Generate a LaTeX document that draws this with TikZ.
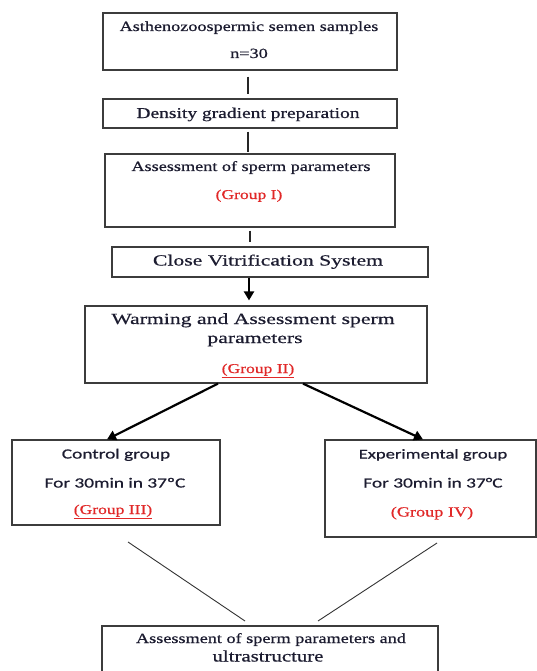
\documentclass[tikz,border=0pt]{standalone}
\usepackage{fontspec}
\setmainfont{Liberation Serif}
\newfontfamily\srf[FakeStretch=1.3,FakeBold=0.6]{Liberation Serif}
\newfontfamily\srfw[FakeStretch=1.4,FakeBold=0.6]{Liberation Serif}
\newfontfamily\sns[FakeStretch=1.38,FakeBold=0.6]{Carlito}
\usetikzlibrary{arrows.meta}
\definecolor{ink}{RGB}{28,28,48}
\definecolor{redt}{RGB}{225,40,40}
\definecolor{boxc}{RGB}{60,60,60}
\begin{document}
\begin{tikzpicture}[x=1pt,y=-1pt,
  box/.style={draw=boxc,line width=1.2pt,inner sep=0pt,fill=white},
  txt/.style={inner sep=0pt,text=ink,anchor=base},
  rtxt/.style={inner sep=0pt,text=redt,anchor=base},
  conn/.style={draw=black!85,line width=1.4pt},
  thin/.style={draw=black!80,line width=0.9pt},
  arr/.style={draw=black,line width=2.2pt,-{Triangle[length=9pt,width=10pt]}}]
\useasboundingbox (0,0) rectangle (537,671);
% boxes
\node[box,minimum width=294pt,minimum height=57pt] (b1) at (250,41.5) {};
\node[box,minimum width=294pt,minimum height=29pt] (b2) at (250,113.5) {};
\node[box,minimum width=290pt,minimum height=73pt] (b3) at (250,190.5) {};
\node[box,minimum width=316pt,minimum height=30pt] (b4) at (270,262) {};
\node[box,minimum width=342pt,minimum height=77pt] (b5) at (256,344.5) {};
\node[box,minimum width=208pt,minimum height=85pt] (b6) at (116,482.5) {};
\node[box,minimum width=211pt,minimum height=97pt] (b7) at (430.5,488.5) {};
\node[box,minimum width=336pt,minimum height=64pt] (b8) at (270,658) {};
% texts
\node[txt] (t1a) at (249,31) {\fontsize{14}{16}\srf Asthenozoospermic semen samples};
\node[txt] (t1b) at (249,58) {\fontsize{14}{16}\srf n=30};
\node[txt] (t2) at (248,118) {\fontsize{15}{17}\srf Density gradient preparation};
\node[txt] (t3a) at (251,171) {\fontsize{14}{16}\srf Assessment of sperm parameters};
\node[rtxt] (t3b) at (249,199) {\fontsize{13.5}{15}\srf (Group I)};
\node[txt] (t4) at (268,265.5) {\fontsize{15.5}{17}\srfw Close Vitrification System};
\node[txt] (t5a) at (253,324) {\fontsize{15.5}{17}\srfw Warming and Assessment sperm};
\node[txt] (t5b) at (255,343) {\fontsize{15.5}{17}\srfw parameters};
\node[rtxt] (t5c) at (258,373) {\fontsize{13.5}{15}\srf \underline{(Group II)}};
\node[txt] (t6a) at (116,458.5) {\fontsize{14}{16}\sns Control group};
\node[txt] (t6b) at (115,487.5) {\fontsize{14}{16}\sns For 30min in 37ºC};
\node[rtxt] (t6c) at (113,514) {\fontsize{13.5}{15}\srf \underline{(Group III)}};
\node[txt] (t7a) at (433,458.5) {\fontsize{13.5}{16}\sns Experimental group};
\node[txt] (t7b) at (433,487.5) {\fontsize{14}{16}\sns For 30min in 37°C};
\node[rtxt] (t7c) at (432,516.5) {\fontsize{14}{16}\srf (Group IV)};
\node[txt] (t8a) at (271,643) {\fontsize{14}{16}\srf Assessment of sperm parameters and};
\node[txt] (t8b) at (268,661.5) {\fontsize{16}{18}\srf ultrastructure};
% connectors
\draw[conn,shorten <=6pt,shorten >=4pt] ([xshift=-2pt]b1.south) -- ([xshift=-2pt]b2.north);
\draw[conn,shorten <=3pt,shorten >=1pt] ([xshift=-2pt]b2.south) -- ([xshift=-2pt]b3.north);
\draw[conn,shorten <=3pt,shorten >=4pt] (b3.south) -- ([xshift=-20pt]b4.north);
\draw[arr,shorten >=5pt] ([xshift=-21pt]b4.south) -- ([xshift=-7pt]b5.north);
\draw[arr] ([xshift=-38pt]b5.south) -- ([xshift=-9pt]b6.north);
\draw[arr] ([xshift=47pt]b5.south) -- ([xshift=-7.5pt]b7.north);
\coordinate (c1) at (128,542);
\coordinate (c2) at (245,621);
\coordinate (c3) at (437,543);
\coordinate (c4) at (318,621);
\draw[thin] (c1) -- (c2);
\draw[thin] (c3) -- (c4);
\end{tikzpicture}
\end{document}
